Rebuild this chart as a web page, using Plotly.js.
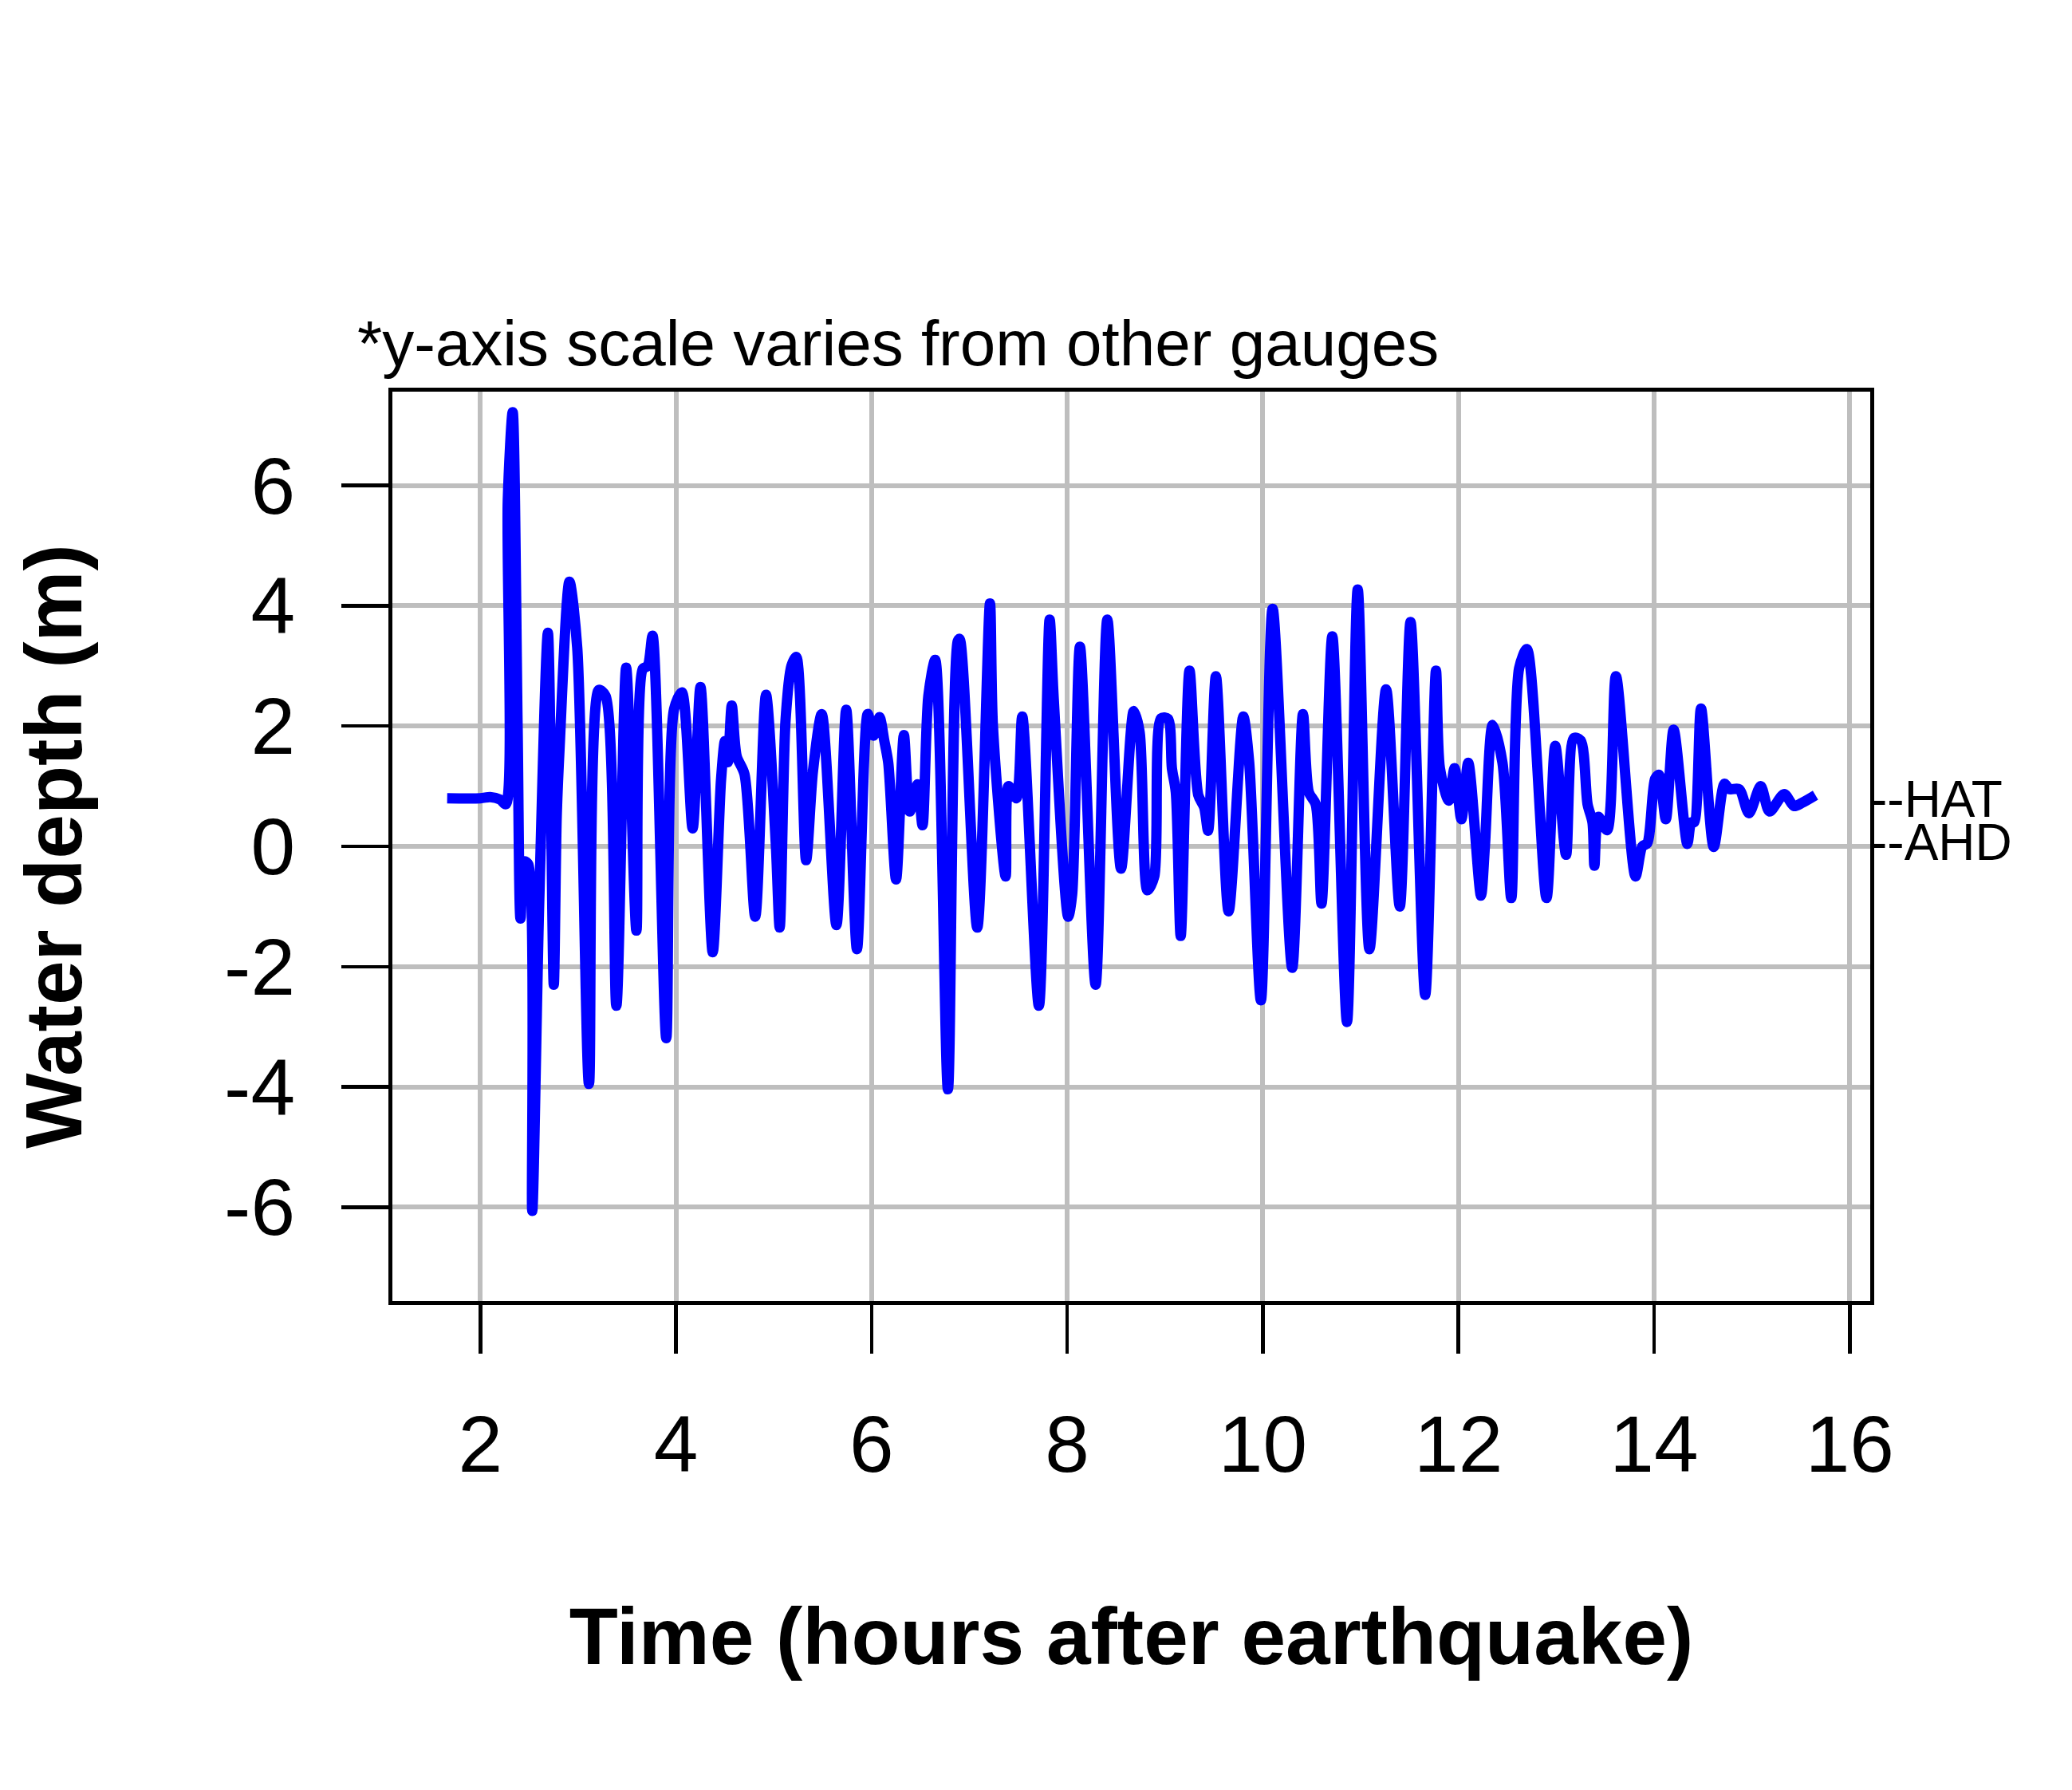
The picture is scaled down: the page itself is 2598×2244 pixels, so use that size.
<!DOCTYPE html>
<html>
<head>
<meta charset="utf-8">
<script src="https://cdn.plot.ly/plotly-3.0.1.min.js"></script>
<style>
  html, body { margin: 0; padding: 0; background: #ffffff; }
  #chart { width: 2598px; height: 2244px; }
</style>
</head>
<body>
<div id="chart"></div>
<script>
// ---- data ----
const timeHours = [
  1.66, 2.00, 2.10, 2.20, 2.26, 2.28, 2.33, 2.38, 2.41, 2.45, 2.49, 2.53, 2.60, 2.69,
  2.75, 2.78, 2.81, 2.91, 2.99, 3.11, 3.21, 3.28, 3.39, 3.49, 3.595, 3.66, 3.71, 3.76,
  3.90, 3.98, 4.06, 4.17, 4.25, 4.375, 4.46, 4.50, 4.53, 4.57, 4.62, 4.70, 4.81, 4.92,
  5.02, 5.06, 5.12, 5.18, 5.23, 5.33, 5.40, 5.49, 5.64, 5.74, 5.85, 5.96, 6.02, 6.08,
  6.13, 6.17, 6.25, 6.33, 6.39, 6.47, 6.52, 6.58, 6.65, 6.78, 6.88, 6.90, 7.08, 7.21,
  7.24, 7.37, 7.40, 7.48, 7.54, 7.71, 7.82, 7.86, 8.01, 8.05, 8.13, 8.29, 8.41, 8.55,
  8.68, 8.74, 8.82, 8.89, 8.96, 9.03, 9.07, 9.11, 9.16, 9.25, 9.34, 9.40, 9.44, 9.52,
  9.65, 9.80, 9.86, 9.98, 10.10, 10.30, 10.41, 10.47, 10.54, 10.60, 10.71, 10.86, 10.97,
  11.09, 11.26, 11.40, 11.51, 11.66, 11.77, 11.81, 11.90, 11.96, 12.03, 12.10, 12.23,
  12.27, 12.35, 12.45, 12.54, 12.62, 12.70, 12.90, 12.99, 13.10, 13.18, 13.25, 13.32,
  13.37, 13.39, 13.43, 13.52, 13.61, 13.81, 13.88, 13.93, 14.01, 14.05, 14.12, 14.20,
  14.34, 14.38, 14.41, 14.48, 14.61, 14.72, 14.77, 14.87, 14.97, 15.09, 15.18, 15.33,
  15.43, 15.51, 15.65
];
const depthM = [
  0.80, 0.80, 0.82, 0.78, 0.70, 5.75, 7.22, 2.00, -1.20, -0.25, -0.30, -6.06, -1.00, 3.55,
  -2.30, 0.50, 1.66, 4.40, 3.30, -3.95, 2.60, 2.50, -2.65, 2.97, -1.40, 2.95, 3.00, 3.50,
  -3.19, 2.28, 2.56, 0.30, 2.65, -1.76, 1.10, 1.75, 1.40, 2.34, 1.50, 1.20, -1.17, 2.52,
  0.05, -1.35, 2.10, 3.00, 3.15, -0.23, 1.25, 2.20, -1.31, 2.27, -1.71, 2.20, 1.84, 2.15,
  1.75, 1.39, -0.55, 1.85, 0.58, 1.03, 0.35, 2.50, 3.10, -4.04, 3.41, 3.45, -1.35, 4.04,
  2.00, -0.50, 1.00, 0.80, 2.16, -2.65, 3.77, 2.50, -1.17, -0.80, 3.32, -2.30, 3.77, -0.37,
  2.25, 1.90, -0.73, -0.50, 2.13, 2.12, 1.30, 0.90, -1.49, 2.92, 0.85, 0.65, 0.26, 2.83,
  -1.08, 2.16, 1.40, -2.56, 3.95, -2.02, 2.20, 0.90, 0.70, -0.95, 3.49, -2.92, 4.27,
  -1.71, 2.61, -1.00, 3.73, -2.47, 2.92, 1.30, 0.76, 1.30, 0.45, 1.39, -0.82,
  0.00, 2.02, 1.39, -0.86, 2.96, 3.28, -0.86, 1.67, -0.14, 1.80, 1.76, 0.70,
  0.40, -0.32, 0.49, 0.27, 2.83, -0.50, 0.00, 0.05, 1.12, 1.19, 0.45, 1.94,
  0.04, 0.40, 0.40, 2.29, -0.01, 1.04, 0.95, 0.95, 0.55, 1.00, 0.58, 0.87,
  0.67, 0.72, 0.85
];

const xTickVals = [2, 4, 6, 8, 10, 12, 14, 16];
const xTickText = ["2", "4", "6", "8", "10", "12", "14", "16"];
const yTickVals = [-6, -4, -2, 0, 2, 4, 6];
const yTickText = ["-6", "-4", "-2", "0", "2", "4", "6"];

const refLevelNames = ["HAT", "AHD"];
const refLevelValues = [0.72, 0.0];

const noteText = "*y-axis scale varies from other gauges";
const xTitle = "Time (hours after earthquake)";
const yTitle = "Water depth (m)";

// ---- chart ----
const FONT = "'Liberation Sans', Arial, Helvetica, sans-serif";

const trace = {
  type: "scatter",
  mode: "lines",
  x: timeHours,
  y: depthM,
  line: { color: "#0000FF", width: 13, shape: "spline", smoothing: 0.8 },
  hoverinfo: "x+y",
  showlegend: false
};

const annotations = refLevelNames.map((name, i) => ({
  xref: "paper", yref: "y",
  x: 1, y: refLevelValues[i],
  xanchor: "left", yanchor: "middle",
  xshift: -2, yshift: 5,
  text: "--" + name,
  showarrow: false,
  font: { family: FONT, size: 64, color: "#000000" }
}));

annotations.push({
  xref: "paper", yref: "paper",
  x: -0.0248, y: 1,
  xanchor: "left", yanchor: "bottom",
  yshift: 14,
  text: noteText,
  showarrow: false,
  font: { family: FONT, size: 80, color: "#000000" }
});

const layout = {
  width: 2598,
  height: 2244,
  paper_bgcolor: "#ffffff",
  plot_bgcolor: "#ffffff",
  font: { family: FONT, color: "#000000" },
  margin: { l: 492, r: 253, t: 491, b: 613, pad: 0 },
  showlegend: false,
  xaxis: {
    range: [1.10, 16.21],
    tickmode: "array",
    tickvals: xTickVals,
    ticktext: xTickText,
    ticks: "outside",
    ticklen: 61,
    tickwidth: 4.5,
    tickcolor: "#000000",
    ticklabelstandoff: 28,
    tickfont: { family: FONT, size: 100, color: "#000000" },
    showline: true,
    mirror: true,
    linecolor: "#000000",
    linewidth: 5,
    showgrid: true,
    gridcolor: "#BEBEBE",
    gridwidth: 6,
    zeroline: false,
    automargin: false,
    title: {
      text: "<b>" + xTitle + "</b>",
      font: { family: FONT, size: 100, color: "#000000" },
      standoff: 152
    }
  },
  yaxis: {
    range: [-7.56, 7.56],
    tickmode: "array",
    tickvals: yTickVals,
    ticktext: yTickText,
    ticks: "outside",
    ticklen: 59,
    tickwidth: 4.5,
    tickcolor: "#000000",
    ticklabelstandoff: 38,
    tickfont: { family: FONT, size: 100, color: "#000000" },
    showline: true,
    mirror: true,
    linecolor: "#000000",
    linewidth: 5,
    showgrid: true,
    gridcolor: "#BEBEBE",
    gridwidth: 6,
    zeroline: false,
    automargin: false,
    title: {
      text: "<b>" + yTitle + "</b>",
      font: { family: FONT, size: 100, color: "#000000" },
      standoff: 147
    }
  },
  annotations: annotations
};

Plotly.newPlot("chart", [trace], layout, { displayModeBar: false, staticPlot: true });
</script>
</body>
</html>
